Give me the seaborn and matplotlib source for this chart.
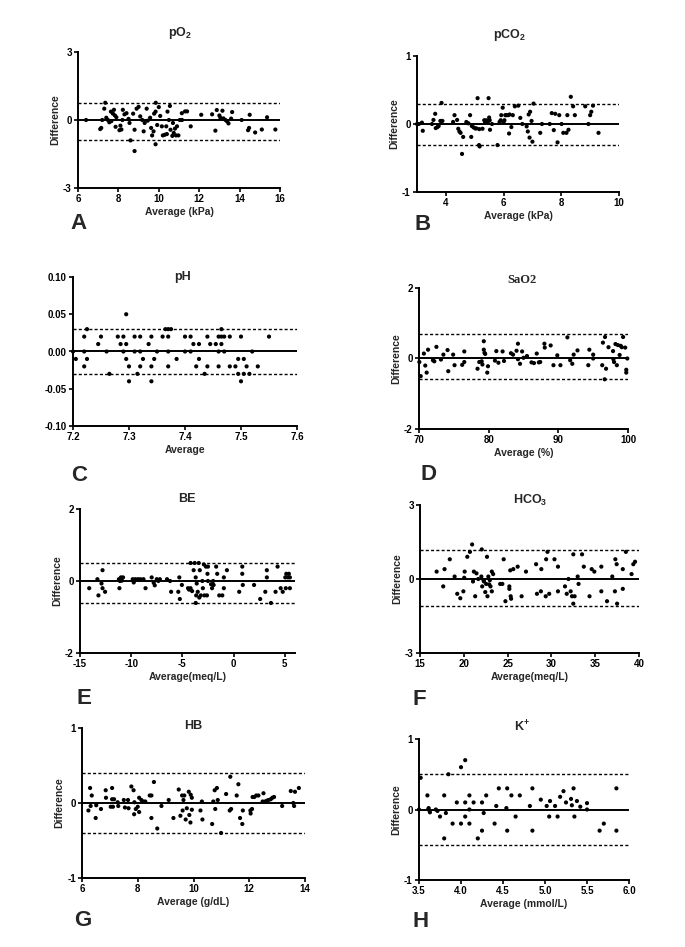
import numpy as np
import pandas as pd
import matplotlib
matplotlib.use("Agg")
import matplotlib.pyplot as plt
import seaborn as sns

# ---- data (average, difference) ----
a_avg = [6.4, 7.1, 7.15, 7.2, 7.3, 7.35, 7.4, 7.48, 7.55, 7.63, 7.65, 7.73, 7.78, 7.83, 7.86, 7.9,
         8.05, 8.1, 8.15, 8.22, 8.2, 8.3, 8.4, 8.5, 8.55, 8.6, 8.73, 8.8, 8.8, 8.9, 9.0, 9.08, 9.18,
         9.25, 9.3, 9.4, 9.45, 9.57, 9.62, 9.67, 9.74, 9.77, 9.84, 9.85, 9.84, 9.92, 10.0, 10.07,
         10.15, 10.2, 10.3, 10.37, 10.4, 10.43, 10.5, 10.55, 10.58, 10.67, 10.7, 10.74, 10.8, 10.85,
         10.9, 10.97, 11.04, 11.14, 11.15, 11.3, 11.4, 11.58, 12.1, 12.64, 12.8, 12.87, 13.0, 13.05,
         13.15, 13.2, 13.3, 13.38, 13.45, 13.58, 13.63, 14.1, 14.5, 14.47, 14.42, 14.77, 15.1, 15.36, 15.77]
a_diff = [0, -0.4, -0.35, 0, 0.5, 0.76, 0.1, 0.0, -0.1, 0.37, -0.05, 0.28, 0.45, 0.2, -0.3, 0.12,
          -0.45, -0.25, -0.42, 0.45, 0, 0.25, 0.3, 0.05, -0.13, -0.9, 0.28, -0.43, -1.37, 0.5, 0.58, 0.16, 0,
          -0.5, -0.13, 0.5, -0.03, 0.1, -0.35, -0.68, -0.5, 0.28, 0.37, 0.76, -1.07, -0.22, 0.57, 0.18,
          -0.28, -0.68, -0.65, -0.28, -0.62, 0.37, 0, 0.62, -0.43, -0.7, -0.13, -0.57, -0.38, -0.68,
          -0.28, -0.68, 0, 0.3, 0, 0.38, 0.38, -0.28, 0.23, 0.25, -0.47, 0.44, 0.2, 0.1,
          0.41, 0.07, 0, -0.06, -0.15, 0.06, 0.35, 0, 0.23, -0.35, -0.45, -0.55, -0.42, 0.12, -0.42]

b_avg = [3.0, 3.06, 3.17, 3.2, 3.52, 3.57, 3.63, 3.65, 3.71, 3.75, 3.81, 3.85, 3.88, 4.25, 4.3, 4.39,
         4.43, 4.47, 4.51, 4.56, 4.6, 4.71, 4.78, 4.84, 4.88, 4.9, 4.96, 5.02, 5.06, 5.1, 5.15, 5.16,
         5.17, 5.27, 5.33, 5.36, 5.4, 5.45, 5.48, 5.5, 5.52, 5.53, 5.6, 5.79, 5.86, 5.9, 5.92, 5.97,
         6.0, 6.03, 6.06, 6.1, 6.16, 6.19, 6.21, 6.27, 6.32, 6.39, 6.51, 6.58, 6.65, 6.8, 6.84, 6.87,
         6.9, 6.92, 6.97, 7.0, 7.04, 7.27, 7.33, 7.6, 7.67, 7.74, 7.79, 7.87, 7.93, 8.01, 8.07, 8.18,
         8.21, 8.25, 8.33, 8.41, 8.47, 8.83, 8.94, 9.0, 9.04, 9.1, 9.29]
b_diff = [0, 0, 0.02, -0.1, 0, 0.06, 0.15, -0.06, -0.045, -0.03, 0.045, 0.31, 0.045, 0.03, 0.13, 0.06,
          -0.07, -0.11, -0.13, -0.44, -0.19, 0.03, 0.01, 0.13, -0.19, -0.03, -0.05, -0.065, -0.065, 0.38, -0.31, -0.075,
          -0.33, -0.07, 0.055, 0.03, 0.055, 0.03, 0.38, 0.095, 0.055, -0.085, 0, -0.31, 0.03, 0.055, 0.13, 0.24,
          0.03, 0.055, 0.13, 0.13, 0.13, -0.14, 0.14, -0.045, 0.13, 0.26, 0.27, 0.09, 0, -0.035, -0.11, 0.14,
          -0.2, 0.18, 0.045, -0.26, 0.3, -0.13, 0, 0, 0.16, -0.09, 0.15, -0.27, 0.13, 0, -0.13, -0.13,
          0.13, -0.085, 0.4, 0.26, 0.13, 0.26, 0, 0.13, 0.18, 0.27, -0.13]

c_avg = [7.20, 7.205, 7.22, 7.22, 7.22, 7.225, 7.225, 7.245, 7.25, 7.26, 7.265, 7.28, 7.285, 7.29, 7.29,
         7.295, 7.295, 7.295, 7.30, 7.30, 7.31, 7.31, 7.315, 7.32, 7.32, 7.32, 7.325, 7.335, 7.34, 7.34,
         7.34, 7.345, 7.35, 7.36, 7.365, 7.37, 7.37, 7.37, 7.37, 7.375, 7.385, 7.40, 7.40, 7.41, 7.41,
         7.415, 7.42, 7.425, 7.425, 7.435, 7.44, 7.44, 7.445, 7.455, 7.46, 7.46, 7.46, 7.465, 7.465, 7.465,
         7.47, 7.47, 7.48, 7.48, 7.49, 7.495, 7.495, 7.50, 7.50, 7.505, 7.505, 7.51, 7.515, 7.52, 7.53, 7.55]
c_diff = [0, -0.01, 0.02, 0, -0.02, 0.03, -0.01, 0.01, 0.02, 0, -0.03, 0.02, 0.01, 0.02, 0,
          0.05, 0.01, -0.01, -0.02, -0.04, 0.02, 0, -0.03, 0.02, 0, -0.02, -0.01, 0.01, 0.02, -0.02,
          -0.04, -0.01, 0, 0.02, 0.03, 0.03, 0.02, 0, -0.02, 0.03, -0.01, 0.02, 0, 0.02, 0,
          0.01, -0.02, 0.01, -0.01, -0.03, 0.02, -0.02, 0.01, 0.01, 0.02, 0, -0.02, 0.03, 0.01, 0.02,
          0.02, 0, 0.02, -0.02, -0.02, -0.01, -0.03, 0.02, -0.04, -0.01, -0.03, -0.02, -0.03, 0, -0.02, 0.02]

d_avg = [70.05, 70.25, 70.7, 70.9, 71.1, 71.3, 72.0, 72.2, 72.5, 73.15, 73.5, 74.1, 74.2, 74.9, 75.1,
         76.2, 76.5, 76.5, 78.4, 78.65, 79.0, 79.1, 79.3, 79.3, 79.4, 79.5, 79.8, 79.9, 80.9, 81.1,
         81.4, 82.0, 82.2, 83.2, 83.5, 84.0, 84.2, 84.2, 84.5, 84.8, 85.0, 85.5, 86.15, 86.5, 86.9,
         87.2, 87.4, 88.0, 88.05, 88.9, 89.3, 89.85, 90.3, 91.3, 91.7, 92.0, 92.2, 92.75, 94.3, 94.45,
         95.0, 95.0, 96.3, 96.4, 96.7, 96.65, 96.85, 97.2, 97.85, 97.9, 98.0, 98.2, 98.4, 98.55, 98.8,
         98.95, 99.1, 99.3, 99.6, 99.75, 99.75, 99.9]
d_diff = [-0.1, -0.5, 0.14, -0.2, -0.4, 0.25, -0.05, -0.08, 0.33, -0.03, 0.11, 0.24, -0.36, 0.11, -0.19,
          -0.18, -0.1, 0.2, -0.29, -0.1, -0.08, -0.17, 0.49, 0.25, 0.16, 0.13, -0.4, -0.22, -0.06, 0.21,
          -0.12, 0.2, -0.07, 0.15, 0.11, 0.22, 0.42, -0.02, -0.15, 0.2, 0.02, 0.07, -0.11, -0.13, 0.14,
          -0.11, -0.1, 0.42, 0.31, 0.37, -0.19, 0.09, -0.19, 0.6, -0.05, -0.15, 0.11, 0.23, -0.19, 0.25,
          0, 0.11, -0.19, 0.45, 0.61, -0.59, -0.29, 0.32, 0.21, -0.02, -0.1, 0.41, -0.19, 0.38, 0.1,
          0.36, 0.32, 0.61, 0.31, -0.32, -0.4, 0]

e_avg = [-14.1, -13.3, -13.2, -12.9, -12.8, -12.8, -12.55, -11.2, -11.15, -11.1, -11.0, -10.9, -10.8,
         -9.75, -9.85, -9.6, -9.35, -9.1, -8.8, -8.6, -8.0, -7.8, -7.7, -7.5, -7.35, -7.2, -6.5, -6.2,
         -6.1, -5.4, -5.3, -5.25, -5.05, -4.45, -4.35, -4.2, -4.2, -4.05, -3.9, -3.8, -3.7, -3.7, -3.65,
         -3.6, -3.5, -3.4, -3.35, -3.3, -3.2, -3.05, -3.0, -2.9, -2.85, -2.7, -2.6, -2.55, -2.5, -2.5,
         -2.2, -2.1, -2.0, -1.95, -1.7, -1.6, -1.4, -1.1, -0.95, -0.95, -0.65, 0.55, 0.85, 0.85, 0.9,
         2.0, 2.6, 3.1, 3.25, 3.25, 3.65, 4.1, 4.3, 4.6, 4.8, 5.05, 5.15, 5.1, 5.3, 5.4, 5.5, 5.5]
e_diff = [-0.2, 0.05, -0.4, -0.07, 0.3, -0.2, -0.3, 0.05, -0.2, 0, 0.1, 0.01, 0.1,
          -0.04, 0.05, 0.05, 0.05, 0.05, 0.05, -0.2, 0.1, -0.05, -0.12, 0.05, 0, 0.05, 0.05, 0,
          -0.3, -0.3, 0.1, -0.5, -0.11, -0.2, -0.24, 0.5, -0.2, -0.28, 0.3, 0.5, -0.61, 0.1, -0.4,
          -0.07, -0.3, 0.5, -0.46, 0.3, -0.4, 0, -0.2, 0.46, -0.4, 0.4, -0.4, 0.2, 0.4, 0,
          -0.09, -0.2, 0, -0.11, 0.4, 0.2, -0.4, -0.4, 0.1, -0.2, 0.3, -0.3, 0.4, 0.2, -0.11,
          -0.11, -0.5, -0.3, 0.3, 0.1, -0.61, -0.3, 0.4, -0.2, -0.3, 0.1, 0.2, -0.2, 0.1, 0.2, 0.1, -0.2]

f_avg = [16.9, 17.65, 17.8, 18.4, 18.95, 19.25, 19.6, 19.95, 20.1, 20.05, 20.4, 20.7, 20.95, 21.05,
         21.15, 21.3, 21.45, 21.65, 22.0, 22.05, 22.1, 22.25, 22.3, 22.45, 22.55, 22.65, 22.7, 22.8,
         22.9, 22.97, 23.05, 23.2, 23.2, 23.35, 24.15, 24.4, 24.55, 24.75, 25.2, 25.2, 25.3, 25.35,
         25.4, 25.65, 26.15, 26.6, 27.1, 28.25, 28.35, 28.8, 28.85, 29.35, 29.4, 29.55, 29.75, 30.35,
         30.75, 30.75, 31.55, 31.75, 31.95, 32.2, 32.35, 32.5, 32.5, 32.65, 33.0, 33.1, 33.5, 33.7,
         34.35, 34.6, 34.9, 35.7, 35.7, 36.35, 36.95, 37.25, 37.3, 37.45, 37.5, 38.15, 38.15, 38.5,
         39.15, 39.35, 39.55]
f_diff = [0.3, -0.3, 0.4, 0.8, 0.1, -0.6, -0.78, -0.5, 0.3, 0.05, 0.9, 1.1, 1.4, -0.1,
          0.3, -0.7, 0.23, 0, 0.1, 1.2, -0.3, -0.05, -0.1, -0.53, -0.2, 0.9, -0.7, 0.1,
          -0.22, -0.05, -0.3, 0.3, -0.5, 0.2, -0.2, -0.2, 0.8, -0.9, -0.3, -0.4, 0.35, -0.7,
          -0.8, 0.4, 0.5, -0.7, 0.3, 0.6, -0.6, -0.5, 0.4, -0.7, 0.8, 1.1, -0.6, 0.8,
          0.5, -0.5, -0.3, -0.6, 0, -0.5, -0.7, 1.0, -1.0, -0.7, 0.1, -0.2, 1.0, 0.5,
          -0.7, 0.4, 0.3, 0.5, -0.5, -0.9, 0.1, -0.5, 0.8, 0.6, -1.0, 0.4, -0.4, 1.1,
          0.2, 0.6, 0.7]

g_avg = [6.23, 6.29, 6.31, 6.35, 6.49, 6.51, 6.68, 6.85, 6.86, 7.03, 7.08, 7.08, 7.11, 7.15, 7.28, 7.3,
         7.5, 7.54, 7.65, 7.67, 7.77, 7.85, 7.88, 7.87, 7.93, 8.0, 8.05, 8.05, 8.13, 8.2, 8.27, 8.43,
         8.49, 8.49, 8.58, 8.7, 8.85, 9.11, 9.28, 9.47, 9.53, 9.59, 9.61, 9.64, 9.67, 9.72, 9.76, 9.83,
         9.85, 9.89, 9.9, 9.94, 9.94, 10.25, 10.3, 10.32, 10.67, 10.71, 10.76, 10.78, 10.84, 10.87,
         10.99, 11.17, 11.3, 11.32, 11.35, 11.55, 11.61, 11.67, 11.75, 11.77, 12.04, 12.05, 12.1,
         12.12, 12.18, 12.25, 12.33, 12.48, 12.51, 12.57, 12.63, 12.69, 12.77, 12.83, 12.89, 13.18,
         13.49, 13.58, 13.61, 13.64, 13.78]
g_diff = [-0.1, 0.2, -0.04, 0.1, -0.2, -0.03, -0.08, 0.17, 0.07, -0.05, 0.2, 0.05, -0.05, 0.05, 0.01, -0.04,
          0.04, -0.06, 0.04, -0.07, 0.22, 0.17, 0.01, -0.15, -0.08, -0.05, 0.07, -0.12, 0.04, 0.02, 0.02, 0.1,
          0.1, -0.2, 0.28, -0.34, -0.04, 0.04, -0.2, 0.18, -0.17, 0.1, -0.1, 0.04, 0.1, -0.22, -0.07, 0.15,
          -0.16, -0.26, 0.11, -0.09, 0.07, -0.1, 0.02, -0.22, -0.28, 0.02, 0.17, -0.08, 0.2, 0.04,
          -0.4, 0.12, -0.1, 0.35, -0.08, 0.1, 0.25, -0.2, -0.28, -0.1, -0.1, -0.14, -0.08,
          0.08, 0.08, 0.1, 0.1, 0.02, 0.13, 0.02, 0.03, 0.04, 0.05, 0.07, 0.08, -0.04,
          0.16, 0, -0.04, 0.15, 0.2]

h_avg = [3.5, 3.52, 3.6, 3.61, 3.615, 3.63, 3.7, 3.72, 3.75, 3.8, 3.8, 3.82, 3.85, 3.9, 3.95, 4.0,
         4.0, 4.05, 4.05, 4.05, 4.1, 4.1, 4.1, 4.15, 4.2, 4.25, 4.25, 4.27, 4.3, 4.4, 4.42, 4.45,
         4.54, 4.55, 4.55, 4.6, 4.65, 4.7, 4.82, 4.85, 4.85, 4.95, 5.02, 5.05, 5.06, 5.12, 5.15,
         5.18, 5.22, 5.25, 5.31, 5.32, 5.34, 5.35, 5.38, 5.42, 5.5, 5.5, 5.65, 5.7, 5.85, 5.85]
h_diff = [0, 0.45, 0.2, 0, 0.02, -0.04, 0, -0.02, -0.1, -0.41, 0.2, -0.05, 0.5, -0.2, 0.1, -0.2,
          0.6, 0.7, 0.1, -0.1, 0.2, 0, -0.2, 0.1, -0.41, 0.1, -0.3, -0.05, 0.2, -0.2, 0.05, 0.3,
          0.02, 0.3, -0.3, 0.2, -0.1, 0.2, 0.05, 0.3, -0.3, 0.14, 0.05, -0.1, 0.12, 0.05, -0.1,
          0.18, 0.26, 0.1, 0.15, 0.06, 0.3, -0.1, 0.12, 0.04, 0.09, 0, -0.3, -0.2, 0.3, -0.3]

# limits of agreement (upper, lower)
loa = {"A": (0.76, -0.90), "B": (0.30, -0.31), "C": (0.03, -0.03), "D": (0.69, -0.59),
       "E": (0.51, -0.61), "F": (1.19, -1.11), "G": (0.40, -0.40), "H": (0.50, -0.50)}

W, H = 685, 947
sns.set_theme(style="ticks")
plt.rcParams["font.family"] = ["Liberation Sans", "DejaVu Sans"]
plt.rcParams["font.weight"] = "bold"
plt.rcParams["axes.labelweight"] = "bold"

fig = plt.figure(figsize=(W / 100, H / 100), dpi=100)
fig.patch.set_facecolor("white")


def box(l, t, r, b):
    return [l / W, 1 - b / H, (r - l) / W, (b - t) / H]


def panel(key, avg, diff, rect, xlim, xticks, xticklabels, ylim, yticks, yticklabels, xlabel, ylabel):
    ax = fig.add_axes(box(*rect))
    df = pd.DataFrame({"avg": avg, "diff": diff})
    sns.scatterplot(data=df, x="avg", y="diff", ax=ax, color="black", s=9,
                    edgecolor="none", linewidth=0, clip_on=False, zorder=3)
    up, lo = loa[key]
    ax.axhline(0, color="black", lw=1.4, zorder=2)
    ax.axhline(up, color="black", lw=1.0, ls=(0, (2.2, 1.6)), zorder=2)
    ax.axhline(lo, color="black", lw=1.0, ls=(0, (2.2, 1.6)), zorder=2)
    ax.set_xlim(*xlim)
    ax.set_ylim(*ylim)
    ax.set_xticks(xticks)
    ax.set_xticklabels(xticklabels)
    ax.set_yticks(yticks)
    ax.set_yticklabels(yticklabels)
    for s in ["top", "right"]:
        ax.spines[s].set_visible(False)
    for s in ["left", "bottom"]:
        ax.spines[s].set_linewidth(1.4)
        ax.spines[s].set_color("black")
    ax.tick_params(direction="out", length=3, width=1.2, pad=1.5, labelsize=7, colors="black")
    for lab in ax.get_xticklabels() + ax.get_yticklabels():
        lab.set_fontweight("bold")
    ax.set_xlabel(xlabel, fontsize=7.5, fontweight="bold", labelpad=2)
    ax.set_ylabel(ylabel, fontsize=7.5, fontweight="bold", labelpad=2)
    ax.set_facecolor("white")
    return ax


panel("A", a_avg, a_diff, (78, 52, 280, 188), (6, 16), [6, 8, 10, 12, 14, 16],
      ["6", "8", "10", "12", "14", "16"], (-3, 3), [-3, 0, 3], ["-3", "0", "3"],
      "Average (kPa)", "Difference")
panel("B", b_avg, b_diff, (417, 56, 619, 192), (3, 10), [4, 6, 8, 10],
      ["4", "6", "8", "10"], (-1, 1), [-1, 0, 1], ["-1", "0", "1"],
      "Average (kPa)", "Difference")
panel("C", c_avg, c_diff, (73, 277, 297, 426), (7.2, 7.6), [7.2, 7.3, 7.4, 7.5, 7.6],
      ["7.2", "7.3", "7.4", "7.5", "7.6"], (-0.1, 0.1), [-0.1, -0.05, 0, 0.05, 0.1],
      ["-0.10", "-0.05", "0.00", "0.05", "0.10"], "Average", "")
panel("D", d_avg, d_diff, (419, 288, 628, 429), (70, 100), [70, 80, 90, 100],
      ["70", "80", "90", "100"], (-2, 2), [-2, 0, 2], ["-2", "0", "2"],
      "Average (%)", "Difference")
panel("E", e_avg, e_diff, (80, 509, 295, 653), (-15, 6), [-15, -10, -5, 0, 5],
      ["-15", "-10", "-5", "0", "5"], (-2, 2), [-2, 0, 2], ["-2", "0", "2"],
      "Average(meq/L)", "Difference")
panel("F", f_avg, f_diff, (420, 505, 639, 653), (15, 40), [15, 20, 25, 30, 35, 40],
      ["15", "20", "25", "30", "35", "40"], (-3, 3), [-3, 0, 3], ["-3", "0", "3"],
      "Average(meq/L)", "Difference")
panel("G", g_avg, g_diff, (82, 728, 305, 878), (6, 14), [6, 8, 10, 12, 14],
      ["6", "8", "10", "12", "14"], (-1, 1), [-1, 0, 1], ["-1", "0", "1"],
      "Average (g/dL)", "Difference")
panel("H", h_avg, h_diff, (419, 739, 629, 880), (3.5, 6.0), [3.5, 4.0, 4.5, 5.0, 5.5, 6.0],
      ["3.5", "4.0", "4.5", "5.0", "5.5", "6.0"], (-1, 1), [-1, 0, 1], ["-1", "0", "1"],
      "Average (mmol/L)", "Difference")

# panel titles
titles = [("pO$_\\mathregular{2}$", 180, 33), ("pCO$_\\mathregular{2}$", 510, 35),
          ("pH", 183, 277), ("BE", 187, 499), ("HCO$_\\mathregular{3}$", 530, 500),
          ("HB", 193, 726), ("K$^\\mathregular{+}$", 522, 727)]
for txt, x, y in titles:
    fig.text(x / W, 1 - y / H, txt, ha="center", va="center", fontsize=9, fontweight="bold")
fig.text(522 / W, 1 - 280 / H, "SaO2", ha="center", va="center", fontsize=9,
         fontweight="bold", family=["Liberation Serif", "DejaVu Serif"])

# panel letters
letters = [("A", 70, 223), ("B", 415, 225), ("C", 71, 475), ("D", 420, 474),
           ("E", 76, 698), ("F", 413, 699), ("G", 74, 920), ("H", 412, 921)]
for txt, x, y in letters:
    fig.text(x / W, 1 - y / H, txt, ha="left", va="center", fontsize=16, fontweight="bold")

fig.savefig("out.png", dpi=100, facecolor="white")
